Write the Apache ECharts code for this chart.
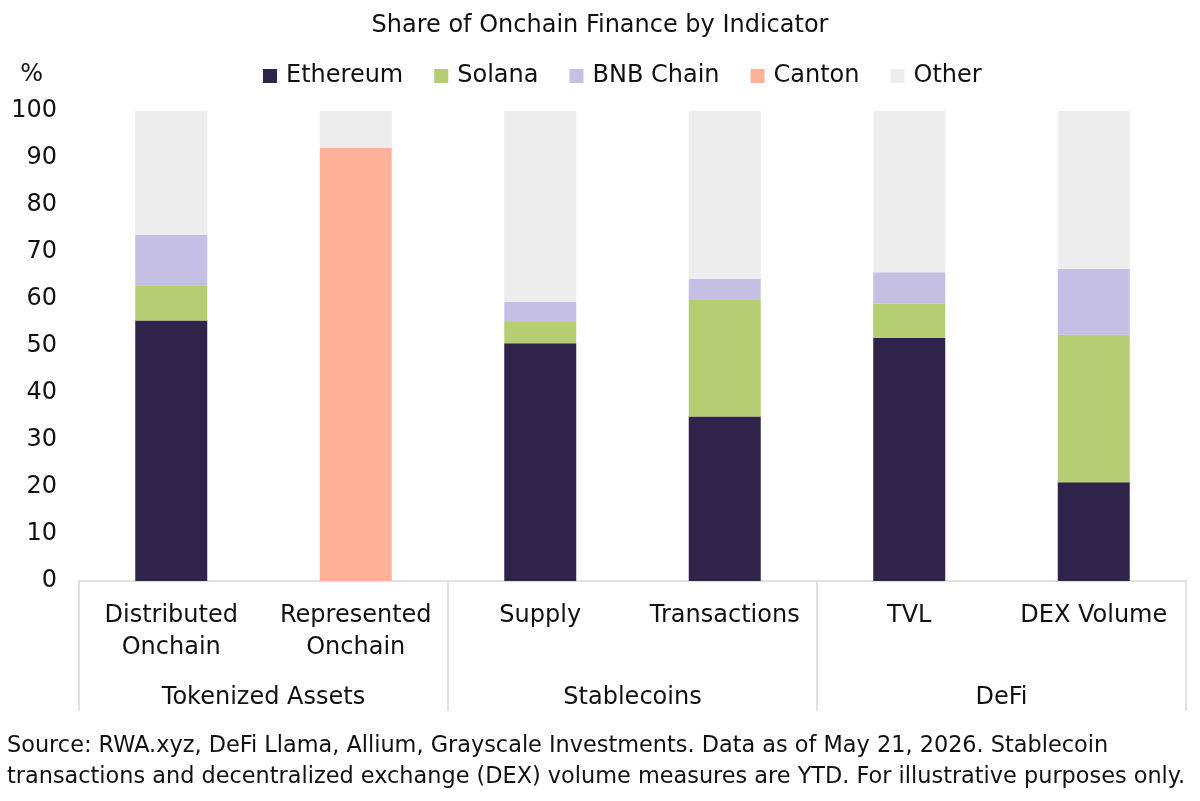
<!DOCTYPE html>
<html>
<head>
<meta charset="utf-8">
<script src="https://cdn.jsdelivr.net/npm/echarts@6/dist/echarts.min.js"></script>
<style>
html,body{margin:0;padding:0;background:#fff;}
#chart{width:1200px;height:801px;}
</style>
</head>
<body>
<div id="chart"></div>
<script>
const categories = ['Distributed\nOnchain', 'Represented\nOnchain', 'Supply', 'Transactions', 'TVL', 'DEX Volume'];
const groups = ['Tokenized Assets', 'Stablecoins', 'DeFi'];
const yTicks = [0, 10, 20, 30, 40, 50, 60, 70, 80, 90, 100];
const ethereum = [55.4, 0, 50.6, 35.0, 51.7, 21.0];
const solana   = [7.5, 0, 4.5, 24.8, 7.3, 31.4];
const bnbChain = [10.7, 0, 4.3, 4.5, 6.7, 14.0];
const canton   = [0, 92.2, 0, 0, 0, 0];
const other    = [26.4, 7.8, 40.6, 35.7, 34.3, 33.6];

const FONT = '"DejaVu Sans", "Open Sans", sans-serif';
const FS = 24;
const chart = echarts.init(document.getElementById('chart'), null, {renderer: 'canvas'});

function bar(name, data, color) {
  return {
    name: name, type: 'bar', stack: 'total', data: data.map(v => v === 0 ? '-' : v),
    barWidth: 72, itemStyle: {color: color}, xAxisIndex: 0
  };
}

chart.setOption({
  animation: false,
  textStyle: {fontFamily: FONT},
  title: [{
    text: 'Share of Onchain Finance by Indicator',
    left: 'center', top: 9,
    textStyle: {fontFamily: FONT, fontSize: FS, fontWeight: 'normal', color: '#111'}
  }, {
    text: 'Source: RWA.xyz, DeFi Llama, Allium, Grayscale Investments. Data as of May 21, 2026. Stablecoin\ntransactions and decentralized exchange (DEX) volume measures are YTD. For illustrative purposes only.',
    left: 2, top: 726,
    textStyle: {fontFamily: FONT, fontSize: 22.4, fontWeight: 'normal', color: '#111', lineHeight: 31}
  }],
  legend: {
    top: 59, left: 258,
    icon: 'rect', itemWidth: 14, itemHeight: 14, itemGap: 31,
    textStyle: {fontFamily: FONT, fontSize: FS, color: '#111', padding: [0, 0, 0, 4]},
    data: ['Ethereum', 'Solana', 'BNB Chain', 'Canton', 'Other']
  },
  grid: {left: 79, right: 14, top: 111, bottom: 220},
  xAxis: [{
    type: 'category', data: categories, position: 'bottom',
    axisLine: {show: true, lineStyle: {color: '#d9d9d9', width: 1.5}},
    axisTick: {show: false},
    axisLabel: {fontFamily: FONT, fontSize: FS, color: '#111', lineHeight: 32, margin: 19, interval: 0}
  }, {
    type: 'category', data: groups, position: 'bottom',
    axisLine: {show: false},
    axisTick: {show: true, length: 130, lineStyle: {color: '#d9d9d9', width: 1.5}},
    axisLabel: {fontFamily: FONT, fontSize: FS, color: '#111', margin: 105, interval: 0}
  }],
  yAxis: {
    type: 'value', min: 0, max: 100, interval: 10,
    name: '%', nameLocation: 'end', nameGap: 36,
    nameTextStyle: {fontFamily: FONT, fontSize: FS, color: '#111', align: 'right', verticalAlign: 'middle', padding: [0, 36, 0, 0]},
    axisLine: {show: false}, axisTick: {show: false},
    splitLine: {show: false},
    axisLabel: {fontFamily: FONT, fontSize: FS, color: '#111', margin: 22,
      formatter: v => yTicks.includes(v) ? String(v) : ''}
  },
  series: [
    bar('Ethereum', ethereum, '#2f234a'),
    bar('Solana', solana, '#b5cd73'),
    bar('BNB Chain', bnbChain, '#c4bfe3'),
    bar('Canton', canton, '#fdb196'),
    bar('Other', other, '#ededed')
  ]
});
</script>
</body>
</html>
